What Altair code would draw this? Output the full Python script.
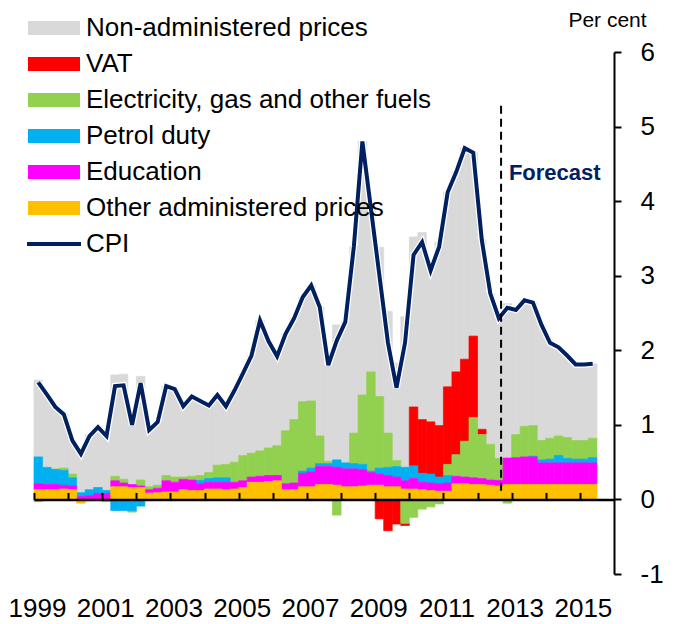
import altair as alt
import pandas as pd

# ---------------- data ----------------
start_year = 1999
n_q = 66  # 1999 Q1 .. 2015 Q2
quarters = [f"{start_year + i // 4} Q{i % 4 + 1}" for i in range(n_q)]

other_admin = [.13, .13, .13, .14, .13, -.05, -.02, -.01, 0, .17,
               .17, .16, .16, .085, .09, .10, .10, .13, .12, .12,
               .14, .14, .13, .14, .16, .23, .23, .24, .25, .13,
               .13, .17, .17, .20, .20, .19, .17, .17, .18, .19,
               .19, .17, .17, .14, .14, .13, .12, .11, .11, .21,
               .21, .20, .20, .19, .18, .20, .20, .20, .20, .20,
               .20, .20, .20, .20, .20, .20]
education = [.08, .07, .07, .05, .05, .04, .05, .08, .08, .08,
             .05, .04, .02, .045, .06, .15, .13, .14, .14, .09,
             .09, .09, .10, .09, .09, .07, .08, .08, .07, .08,
             .09, .18, .20, .24, .24, .24, .24, .24, .22, .17,
             .15, .15, .13, .11, .14, .10, .10, .10, .11, .10,
             .09, .09, .08, .07, .075, .355, .36, .37, .37, .29,
             .29, .29, .29, .29, .29, .29]
petrol = [.36, .23, .20, .20, .11, .05, .08, .08, .04, -.15,
          -.15, -.15, -.09, 0, 0, 0, 0, 0, 0, .045,
          .05, .06, .06, 0, 0, 0, 0, 0, 0, 0,
          0, .03, .05, .04, .04, .10, .08, .07, .07, .02,
          .08, .11, .14, .18, .17, .12, .12, .09, .10, 0,
          0, 0, 0, 0, 0, 0, 0, 0, .01, .04,
          .05, .10, .06, .05, .05, .07]
electricity = [-.03, 0, .01, .03, .05, 0, 0, 0, -.03, .06,
               .05, -.02, .08, .04, .04, .07, .07, .03, .05, .065,
               .08, .17, .18, .27, .34, .32, .34, .37, .40, .71,
               .85, .93, .90, .37, .03, -.21, 0, .41, .93, 1.33,
               .96, .46, .08, -.32, -.24, -.13, -.10, -.06, .15, .29,
               .48, .81, .59, .48, .295, -.05, .31, .41, .41, .26,
               .28, .26, .28, .25, .25, .26]
vat = [0] * 40 + [-.26, -.42, -.33, -.03, .79, .72, .70, .69, 1.04, 1.11,
                  1.10, 1.09, .07] + [0] * 13
non_admin = [1.03, .98, .83, .72, .45, .57, .74, .82, .76, 1.36,
             1.41, .97, 1.39, .76, .85, 1.20, 1.18, .95, 1.07, 1.00,
             .90, .94, .78, .96, 1.10, 1.31, 1.75, 1.43, 1.20, 1.30,
             1.36, 1.40, 1.55, 1.73, 1.29, 1.81, 1.89, 2.50, 3.40, 2.19,
             2.00, 1.63, 1.31, 2.02, 2.28, 2.51, 2.13, 2.46, 2.61, 2.68,
             2.83, 2.46, 2.54, 2.02, 1.88, 2.07, 1.67, 1.69, 1.65, 1.55,
             1.28, 1.19, 1.10, 1.02, 1.02, 1.00]
cpi = [1.57, 1.41, 1.24, 1.14, .79, .61, .85, .97, .85, 1.52,
       1.53, 1.00, 1.56, .93, 1.04, 1.52, 1.48, 1.25, 1.38, 1.32,
       1.26, 1.40, 1.25, 1.46, 1.69, 1.93, 2.40, 2.12, 1.92, 2.22,
       2.43, 2.71, 2.87, 2.58, 1.80, 2.13, 2.38, 3.39, 4.80, 3.90,
       3.00, 2.10, 1.50, 2.10, 3.28, 3.45, 3.07, 3.39, 4.12, 4.39,
       4.71, 4.65, 3.48, 2.76, 2.43, 2.57, 2.54, 2.67, 2.64, 2.34,
       2.10, 2.04, 1.93, 1.81, 1.81, 1.82]

series_names = ["Non-administered prices", "VAT", "Electricity, gas and other fuels",
                "Petrol duty", "Education", "Other administered prices"]
series_colors = ["#D9D9D9", "#FF0000", "#92D050", "#00B0F0", "#FF00FF", "#FFC000"]
series_values = [non_admin, vat, electricity, petrol, education, other_admin]
stack_order = [5, 4, 3, 2, 1, 0]  # bottom of stack = Other administered prices

forecast_start = [2012.69]
forecast_label = ["Forecast"]
year_ticks = list(range(1999, 2016))
year_labels = list(range(1999, 2016, 2))
y_ticks = list(range(-1, 7))

FONT = "Liberation Sans"
NAVY = "#002060"

# ---------------- tables ----------------
rows = []
for name, vals, o in zip(series_names, series_values, stack_order):
    for i, v in enumerate(vals):
        t0 = start_year + i / 4
        rows.append({"quarter": quarters[i], "t0": t0, "t1": t0 + 0.25,
                     "series": name, "value": v, "ord": o})
bars_df = pd.DataFrame(rows)

line_df = pd.DataFrame({"quarter": quarters,
                        "tm": [start_year + i / 4 + 0.125 for i in range(n_q)],
                        "cpi": cpi, "name": "CPI"})

fc_df = pd.DataFrame({"x": forecast_start, "ytop": [5.28], "ybot": [0.1]})
txt_df = pd.DataFrame({"x": [2012.92], "y": [4.29], "label": forecast_label})

xscale = alt.Scale(domain=[1999, 2016], nice=False, zero=False)
yscale = alt.Scale(domain=[-1, 6], nice=False)

yaxis = alt.Axis(orient="right", values=y_ticks, grid=False,
                 domainColor="black", domainWidth=2, tickColor="black",
                 tickWidth=2, tickSize=7, labelFont=FONT, labelFontSize=26,
                 labelColor="black", labelPadding=19, labelAlign="left",
                 labelExpr="'' + datum.value",
                 title="Per cent", titleAngle=0, titleX=-7, titleY=-26,
                 titleAlign="center", titleBaseline="alphabetic",
                 titleFont=FONT, titleFontSize=21, titleFontWeight="normal",
                 titleColor="black")

series_scale = alt.Scale(domain=series_names, range=series_colors)

bars = alt.Chart(bars_df).transform_filter(
    "datum.value != 0"
).transform_stack(
    stack="value", groupby=["t0"], as_=["y0", "y1"],
    sort=[alt.SortField("ord", order="ascending")], offset="zero"
).mark_bar(strokeWidth=0.7).encode(
    x=alt.X("t0:Q", scale=xscale,
            axis=alt.Axis(orient="bottom", values=year_labels, format="d",
                          labelFont=FONT, labelFontSize=26, labelColor="black",
                          domain=False, ticks=False, grid=False, labelPadding=21,
                          labelOffset=3,
                          labelFlush=False, labelOverlap=False, title=None)),
    x2="t1:Q",
    y=alt.Y("y0:Q", scale=yscale, axis=yaxis),
    y2="y1:Q",
    color=alt.Color("series:N", scale=series_scale,
                    legend=alt.Legend(orient="none", legendX=7, legendY=-37, title=None,
                                      symbolType="M-5.2,-1.4H5.2V1.4H-5.2Z",
                                      symbolSize=100, symbolStrokeWidth=0,
                                      symbolOffset=0, labelOffset=19, rowPadding=10,
                                      padding=0, labelFont=FONT, labelFontSize=26,
                                      labelColor="black", labelLimit=600)),
    stroke=alt.Stroke("series:N", scale=series_scale, legend=None),
)

halo = alt.Chart(line_df).mark_line(color="white", strokeWidth=6.5).encode(
    x=alt.X("tm:Q", scale=xscale, axis=None),
    y=alt.Y("cpi:Q", scale=yscale, axis=yaxis),
)

cpi_line = alt.Chart(line_df).mark_line(strokeWidth=4).encode(
    x=alt.X("tm:Q", scale=xscale, axis=None),
    y=alt.Y("cpi:Q", scale=yscale, axis=yaxis),
    stroke=alt.Stroke("name:N", scale=alt.Scale(domain=["CPI"], range=[NAVY]),
                      legend=alt.Legend(orient="none", legendX=7, legendY=179, title=None,
                                        symbolType="M-5.4,0H5.4", symbolSize=100,
                                        symbolStrokeWidth=4, symbolOffset=0,
                                        labelOffset=19, padding=0, labelFont=FONT,
                                        labelFontSize=26, labelColor="black",
                                        labelLimit=600)),
)

fc_rule = alt.Chart(fc_df).mark_rule(color="black", strokeWidth=2, strokeDash=[8, 5]).encode(
    x=alt.X("x:Q", scale=xscale,
            axis=alt.Axis(orient="top", offset=-447.43, values=year_ticks, labels=False,
                          tickSize=7, tickWidth=2, tickColor="black", domainColor="black",
                          domainWidth=2.5, grid=False, title=None, zindex=1)),
    y=alt.Y("ytop:Q", scale=yscale, axis=yaxis),
    y2="ybot:Q",
)

fc_text = alt.Chart(txt_df).mark_text(align="left", baseline="alphabetic", font=FONT,
                                      fontSize=22, fontWeight="bold", color=NAVY).encode(
    x=alt.X("x:Q", scale=xscale, axis=None),
    y=alt.Y("y:Q", scale=yscale, axis=yaxis),
    text="label:N",
)

chart = alt.layer(bars, halo, cpi_line, fc_rule, fc_text).resolve_axis(
    x="independent"
).resolve_scale(stroke="independent").resolve_legend(
    color="independent", stroke="independent"
).properties(
    width=580, height=522,
    padding={"left": 26, "top": 44, "right": 52, "bottom": 50},
    autosize=alt.AutoSizeParams(type="none"),
    background="white",
).configure_view(stroke=None)

chart.save("out.html", embed_options={"renderer": "svg", "actions": False})
